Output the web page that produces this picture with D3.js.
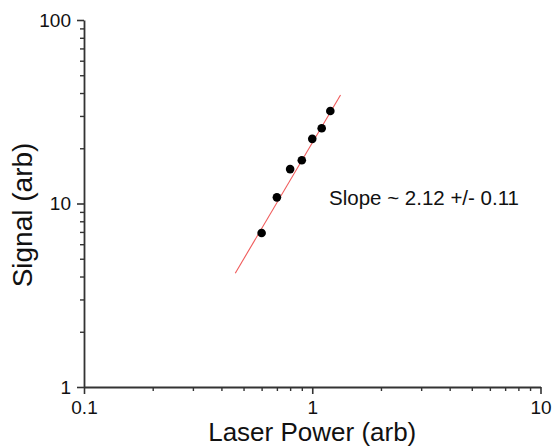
<!DOCTYPE html>
<html>
<head>
<meta charset="utf-8">
<script src="https://cdn.jsdelivr.net/npm/d3@7"></script>
<style>
	html, body { margin: 0; padding: 0; background: #fff; }
	svg { display: block; font-family: "Liberation Sans", Arial, sans-serif; }
	.axis path, .axis line { stroke: #333; }
	.axis text { fill: #111; font-size: 19px; font-family: "Liberation Sans", Arial, sans-serif; }
</style>
</head>
<body>
<svg width="554" height="447"></svg>
<script>
// measured points (laser power vs signal)
var powerVals = [0.6, 0.7, 0.8, 0.9, 1.0, 1.1, 1.2];
var signalVals = [6.9, 10.8, 15.4, 17.2, 22.5, 25.7, 31.9];

// ends of the fitted line
var fitPower = [0.46, 1.33];
var fitSignal = [4.17, 39.0];

var xTicks = [0.1, 1, 10];
var yTicks = [1, 10, 100];
var xTickLabels = ['0.1', '1', '10'];
var yTickLabels = ['1', '10', '100'];

var slopeLabel = 'Slope ~ 2.12 +/- 0.11';

function drawChart() {
	var svg = d3.select('svg'),
		margin = {
			top: 20,
			right: 13.5,
			bottom: 60,
			left: 84
		},
		width = +svg.attr('width') - margin.left - margin.right,
		height = +svg.attr('height') - margin.top - margin.bottom;

	var x = d3.scaleLog().domain([0.1, 10]).range([0, width]),
		y = d3.scaleLog().domain([1, 100]).range([height, 0]);

	var g = svg.append('g')
		.attr('transform', 'translate(' + margin.left + ',' + margin.top + ')');

	// minor ticks first, majors go on top
	var xMinor = x.ticks().filter(function(d) { return xTicks.indexOf(d) < 0; });
	var yMinor = y.ticks().filter(function(d) { return yTicks.indexOf(d) < 0; });

	g.append('g')
		.attr('class', 'axis')
		.attr('transform', 'translate(0,' + height + ')')
		.call(d3.axisBottom(x).tickValues(xMinor).tickSize(4).tickSizeOuter(0).tickFormat(''))
		.call(function(a) { a.select('.domain').remove(); a.selectAll('line').attr('stroke-width', 1.4); });

	g.append('g')
		.attr('class', 'axis')
		.call(d3.axisLeft(y).tickValues(yMinor).tickSize(4).tickSizeOuter(0).tickFormat(''))
		.call(function(a) { a.select('.domain').remove(); a.selectAll('line').attr('stroke-width', 1.4); });

	g.append('g')
		.attr('class', 'axis axis--x')
		.attr('transform', 'translate(0,' + height + ')')
		.call(d3.axisBottom(x).tickValues(xTicks).tickSize(7).tickSizeOuter(0).tickPadding(7)
			.tickFormat(function(d, i) { return xTickLabels[i]; }))
		.call(function(a) {
			a.select('.domain').attr('stroke-width', 1.8);
			a.selectAll('line').attr('stroke-width', 1.6);
		});

	g.append('g')
		.attr('class', 'axis axis--y')
		.call(d3.axisLeft(y).tickValues(yTicks).tickSize(7).tickSizeOuter(0).tickPadding(6)
			.tickFormat(function(d, i) { return yTickLabels[i]; }))
		.call(function(a) {
			a.select('.domain').attr('stroke-width', 1.8);
			a.selectAll('line').attr('stroke-width', 1.6);
		});

	// fit line
	var fitData = fitPower.map(function(p, i) { return { x: p, y: fitSignal[i] }; });
	g.append('path')
		.datum(fitData)
		.attr('fill', 'none')
		.attr('stroke', '#f05a5a')
		.attr('stroke-width', 1.1)
		.attr('d', d3.line()
			.x(function(d) { return x(d.x); })
			.y(function(d) { return y(d.y); }));

	// data points
	var pts = powerVals.map(function(p, i) { return { x: p, y: signalVals[i] }; });
	g.selectAll('.dot')
		.data(pts)
		.enter().append('circle')
		.attr('class', 'dot')
		.attr('cx', function(d) { return x(d.x); })
		.attr('cy', function(d) { return y(d.y); })
		.attr('r', 4.3)
		.attr('fill', '#000');

	g.append('text')
		.attr('x', 245)
		.attr('y', 185)
		.attr('font-size', '20.5px')
		.attr('fill', '#111')
		.text(slopeLabel);

	// axis titles
	svg.append('text')
		.attr('x', margin.left + x(1))
		.attr('y', 441)
		.attr('text-anchor', 'middle')
		.attr('font-size', '26px')
		.attr('fill', '#111')
		.text('Laser Power (arb)');

	svg.append('text')
		.attr('transform', 'translate(32,215) rotate(-90)')
		.attr('text-anchor', 'middle')
		.attr('font-size', '28px')
		.attr('fill', '#111')
		.text('Signal (arb)');
}

drawChart();
</script>
</body>
</html>
